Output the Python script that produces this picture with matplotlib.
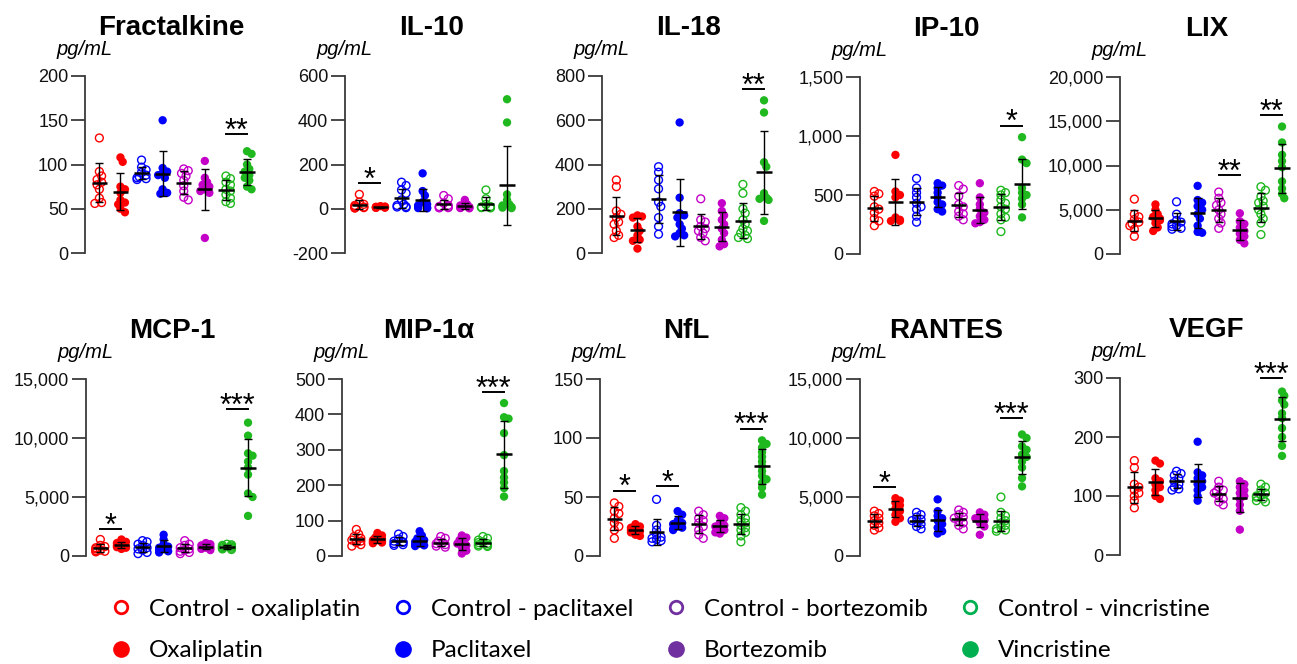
import numpy as np
import matplotlib
matplotlib.use("Agg")
import matplotlib.pyplot as plt
from matplotlib.lines import Line2D
from matplotlib.ticker import FuncFormatter

FIG_SIZE = (12.97, 6.64)
DPI = 100
BASE_FONT = "Liberation Sans"
LEGEND_FONT = "Lato"

GROUPS = [
    "Control - oxaliplatin", "Oxaliplatin",
    "Control - paclitaxel", "Paclitaxel",
    "Control - bortezomib", "Bortezomib",
    "Control - vincristine", "Vincristine",
]
FILLED = [False, True, False, True, False, True, False, True]
POINT_COLORS = ["#ff0000", "#ff0000", "#0000ff", "#0000ff",
                "#c400c8", "#c400c8", "#1fb81f", "#1fb81f"]
LEGEND_COLORS = ["#ff0000", "#ff0000", "#0000ff", "#0000ff",
                 "#7030a0", "#7030a0", "#00b050", "#00b050"]

# ---- values (pg/mL), one list per group ----
FRACTALKINE = [
    [130, 92, 87, 83, 80, 77, 72, 62, 57, 56],
    [108, 103, 75, 72, 68, 60, 57, 55, 50, 46],
    [105, 97, 94, 91, 88, 86, 85, 84, 83],
    [150, 96, 92, 90, 88, 85, 72, 68, 67],
    [95, 93, 90, 87, 82, 76, 70, 63, 60],
    [104, 85, 80, 77, 75, 72, 70, 68, 17],
    [87, 84, 80, 77, 72, 70, 66, 62, 58, 56],
    [115, 112, 100, 95, 92, 88, 85, 82, 75, 72],
]
IL10 = [
    [65, 30, 20, 15, 10, 8, 5, 5, 3],
    [12, 10, 9, 8, 7, 6, 5, 5, 4],
    [120, 105, 85, 70, 40, 20, 15, 10, 8, 5],
    [160, 80, 60, 30, 20, 15, 10, 5, 3, 2],
    [60, 45, 25, 15, 10, 8, 6, 5, 4],
    [40, 20, 15, 8, 5, 4, 3, 2],
    [85, 45, 20, 10, 8, 6, 5, 4],
    [495, 390, 65, 40, 20, 15, 10, 8, 5, 3],
]
IL18 = [
    [330, 300, 190, 175, 160, 140, 130, 100, 80, 70],
    [170, 165, 160, 120, 100, 80, 60, 55, 20],
    [390, 365, 330, 290, 230, 210, 160, 120, 85],
    [590, 250, 180, 170, 160, 130, 110, 90, 80, 75],
    [245, 150, 140, 120, 110, 100, 90, 70, 55],
    [225, 190, 170, 150, 130, 110, 90, 60, 40, 30],
    [310, 270, 200, 180, 150, 130, 110, 100, 90, 80, 70, 65],
    [690, 635, 410, 390, 270, 250, 245, 240, 145],
]
IP10 = [
    [530, 510, 490, 400, 380, 350, 300, 280, 240],
    [840, 530, 500, 480, 310, 290, 280, 280],
    [640, 560, 520, 480, 430, 400, 380, 320, 270],
    [600, 580, 560, 520, 480, 440, 420, 380, 360],
    [580, 550, 490, 420, 400, 360, 340, 320, 290],
    [600, 480, 420, 380, 350, 320, 290, 270, 260],
    [540, 520, 500, 460, 430, 400, 380, 340, 310, 290, 190],
    [990, 800, 770, 560, 520, 500, 470, 420, 310],
]
LIX = [
    [6200, 4500, 4200, 3900, 3600, 3400, 3200, 2800, 2000],
    [5600, 5000, 4500, 4200, 4000, 3800, 3500, 3000, 2600],
    [5900, 4500, 3800, 3600, 3400, 3200, 3100, 2900, 2800],
    [7700, 6100, 5800, 5400, 5000, 4500, 4000, 3200, 2500, 2400],
    [7000, 6300, 5800, 5500, 5000, 4500, 4000, 3500, 2900],
    [4600, 3700, 3400, 3000, 2600, 2300, 2000, 1600, 1200],
    [7600, 7200, 6500, 6000, 5800, 5400, 5000, 4500, 4000, 3500, 2200],
    [14400, 12600, 11200, 10500, 9800, 8200, 7400, 6800, 6300],
]
MCP1 = [
    [1400, 900, 800, 700, 600, 500, 450, 400, 350],
    [1400, 1200, 1100, 1000, 900, 800, 750, 700, 600],
    [1300, 1200, 1000, 900, 700, 600, 500, 300, 200],
    [1800, 1400, 1000, 800, 700, 600, 500, 400, 300],
    [1300, 1000, 900, 700, 600, 500, 400, 300, 200],
    [1100, 1000, 900, 800, 700, 650, 600, 500],
    [1000, 950, 900, 850, 800, 750, 700, 650, 600, 550],
    [11300, 10200, 8700, 8500, 8000, 7500, 6900, 5300, 5000, 3400],
]
MIP1A = [
    [75, 62, 55, 50, 45, 42, 38, 32, 28],
    [65, 58, 52, 48, 45, 42, 40, 38, 36],
    [62, 55, 48, 42, 40, 38, 35, 32, 30],
    [70, 58, 50, 45, 40, 35, 32, 30, 28],
    [55, 50, 42, 38, 35, 32, 28, 25],
    [58, 52, 45, 40, 35, 30, 25, 15, 7],
    [55, 50, 45, 40, 38, 35, 32, 30, 28, 27],
    [432, 392, 388, 347, 285, 240, 222, 208, 192, 168],
]
NFL = [
    [45, 42, 38, 36, 32, 28, 25, 22, 15],
    [27, 25, 24, 23, 22, 21, 20, 18, 17],
    [48, 26, 22, 18, 16, 15, 14, 13, 12],
    [38, 35, 30, 28, 27, 25, 24, 23, 22],
    [38, 35, 32, 30, 28, 25, 22, 18, 15],
    [34, 32, 28, 26, 25, 23, 22, 20, 19],
    [41, 38, 35, 32, 30, 28, 26, 24, 22, 20, 17, 12],
    [98, 95, 92, 88, 84, 80, 76, 72, 68, 65, 62, 58, 52],
]
RANTES = [
    [3800, 3600, 3400, 3200, 3000, 2800, 2600, 2400, 2200],
    [4900, 4700, 4500, 4300, 4000, 3800, 3500, 3200, 2900],
    [3700, 3500, 3300, 3100, 3000, 2900, 2700, 2500, 2300],
    [4800, 3800, 3400, 3200, 3000, 2700, 2400, 2100, 1900],
    [3900, 3700, 3500, 3300, 3200, 3000, 2800, 2600, 2300],
    [3700, 3500, 3300, 3200, 3100, 3000, 2800, 2500, 1800],
    [5000, 3700, 3400, 3200, 3000, 2800, 2600, 2400, 2300, 2200, 2100],
    [10300, 10000, 9300, 9000, 8600, 8400, 8000, 7500, 6600, 5900],
]
VEGF = [
    [160, 148, 120, 115, 110, 105, 100, 92, 80],
    [160, 155, 130, 125, 120, 115, 110, 100, 95],
    [142, 138, 135, 130, 125, 120, 115, 112, 110],
    [192, 140, 135, 130, 125, 120, 115, 110, 100, 92],
    [125, 115, 110, 108, 105, 100, 95, 90, 85],
    [125, 120, 115, 110, 105, 100, 95, 85, 75, 43],
    [120, 115, 110, 105, 102, 100, 98, 95, 92, 90],
    [277, 270, 262, 255, 240, 232, 215, 200, 185, 168],
]

TITLES = ["Fractalkine", "IL-10", "IL-18", "IP-10", "LIX",
          "MCP-1", "MIP-1\u03b1", "NfL", "RANTES", "VEGF"]
PANEL_DATA = [FRACTALKINE, IL10, IL18, IP10, LIX,
              MCP1, MIP1A, NFL, RANTES, VEGF]
Y_TICKS = [
    [0, 50, 100, 150, 200],
    [-200, 0, 200, 400, 600],
    [0, 200, 400, 600, 800],
    [0, 500, 1000, 1500],
    [0, 5000, 10000, 15000, 20000],
    [0, 5000, 10000, 15000],
    [0, 100, 200, 300, 400, 500],
    [0, 50, 100, 150],
    [0, 5000, 10000, 15000],
    [0, 100, 200, 300],
]
# (group a, group b, height of bar, label)
SIGNIFICANCE = [
    [(6, 7, 134, "**")],
    [(0, 1, 116, "*")],
    [(6, 7, 740, "**")],
    [(6, 7, 1088, "*")],
    [(4, 5, 8930, "**"), (6, 7, 15720, "**")],
    [(0, 1, 2260, "*"), (6, 7, 12450, "***")],
    [(6, 7, 462, "***")],
    [(0, 1, 55.5, "*"), (2, 3, 59, "*"), (6, 7, 108, "***")],
    [(0, 1, 5830, "*"), (6, 7, 11700, "***")],
    [(6, 7, 300, "***")],
]

# layout in pixels (figure is 1297 x 664)
AX_LEFT_PX = [85, 345, 602, 860, 1120, 86, 342, 600, 860, 1120]
AX_TOP_PX = [76, 76, 76, 77, 77, 379, 379, 379, 379, 378]
AX_H_PX = 177
AX_W_PX = 173
X_LIMITS = (-0.68, 7.52)
MARKER_PX = 7.5


def _swarm_offsets(values, y_span, x_px_per_unit, max_off=0.3):
    """Nudge points sideways where they would pile up (loose beeswarm)."""
    px_per_val = AX_H_PX / y_span
    order = np.argsort(values)[::-1]
    placed = []
    offsets = np.zeros(len(values))
    step = 0.3 * MARKER_PX / x_px_per_unit
    min_dist = 0.62 * MARKER_PX
    for idx in order:
        y = values[idx] * px_per_val
        candidates = [0.0]
        k = 1
        while k * step <= max_off:
            candidates += [k * step, -k * step]
            k += 1
        best = candidates[-1 - (len(placed) % 2)]
        for c in candidates:
            ok = True
            for (py, pxo) in placed:
                dx = (c - pxo) * x_px_per_unit
                if (dx ** 2 + (y - py) ** 2) < min_dist ** 2:
                    ok = False
                    break
            if ok:
                best = c
                break
        offsets[idx] = best
        placed.append((y, best))
    return offsets


def _plot_panel(ax, data, ticks, sigs, title):
    y_span = ticks[-1] - ticks[0]
    x_px_per_unit = AX_W_PX / (X_LIMITS[1] - X_LIMITS[0])
    for i, vals in enumerate(data):
        vals = np.asarray(vals, dtype=float)
        offs = _swarm_offsets(vals, y_span, x_px_per_unit)
        col = POINT_COLORS[i]
        if FILLED[i]:
            ax.scatter(i + offs, vals, s=36, color=col, edgecolor="none",
                       zorder=2, clip_on=False)
        else:
            ax.scatter(i + offs, vals, s=32, facecolor="none", edgecolor=col,
                       linewidth=1.0, zorder=2, clip_on=False)
        mean = vals.mean()
        sd = vals.std(ddof=1)
        ax.errorbar(i, mean, yerr=sd, fmt="none", ecolor="black",
                    elinewidth=1.0, capsize=3, capthick=1.0, zorder=3,
                    clip_on=False)
        ax.hlines(mean, i - 0.36, i + 0.36, color="black", linewidth=1.8,
                  zorder=4, clip_on=False)

    for a, b, y, label in sigs:
        ax.plot([a, b], [y, y], color="black", linewidth=1.4, clip_on=False)
        ax.annotate(label, xy=((a + b) / 2, y), xytext=(0, -4),
                    textcoords="offset points", ha="center", va="baseline",
                    fontsize=22, fontfamily=BASE_FONT, clip_on=False)

    ax.set_xlim(*X_LIMITS)
    ax.set_ylim(ticks[0], ticks[-1])
    ax.set_yticks(ticks)
    ax.yaxis.set_major_formatter(FuncFormatter(lambda v, p: f"{int(v):,}"))
    for side in ["top", "right", "bottom"]:
        ax.spines[side].set_visible(False)
    ax.spines["left"].set_color("#3a3a3a")
    ax.spines["left"].set_linewidth(1.3)
    ax.tick_params(axis="y", length=10, width=1.3, color="#3a3a3a",
                   labelsize=13, pad=2, labelcolor="#111111")
    ax.set_xticks([])
    ax.patch.set_alpha(0)

    ax.annotate(title, xy=(0.5, 1), xycoords="axes fraction",
                xytext=(0, 29.5), textcoords="offset points",
                ha="center", va="baseline", fontsize=20, fontweight="bold",
                fontfamily=BASE_FONT)
    ax.annotate("pg/mL", xy=(0, 1), xycoords="axes fraction",
                xytext=(0, 15), textcoords="offset points",
                ha="center", va="baseline", fontsize=14.5, fontstyle="italic",
                fontfamily=BASE_FONT)


def main():
    plt.rcParams["font.family"] = [BASE_FONT, "DejaVu Sans"]
    fig = plt.figure(figsize=FIG_SIZE, dpi=DPI)
    fw, fh = FIG_SIZE[0] * DPI, FIG_SIZE[1] * DPI
    for k in range(10):
        left = AX_LEFT_PX[k] / fw
        bottom = (fh - AX_TOP_PX[k] - AX_H_PX) / fh
        ax = fig.add_axes([left, bottom, AX_W_PX / fw, AX_H_PX / fh])
        _plot_panel(ax, PANEL_DATA[k], Y_TICKS[k], SIGNIFICANCE[k], TITLES[k])

    handles = []
    for i, name in enumerate(GROUPS):
        if FILLED[i]:
            h = Line2D([], [], linestyle="none", marker="o", markersize=11,
                       markerfacecolor=LEGEND_COLORS[i],
                       markeredgecolor=LEGEND_COLORS[i], label=name)
        else:
            h = Line2D([], [], linestyle="none", marker="o", markersize=9,
                       markerfacecolor="none", markeredgewidth=2,
                       markeredgecolor=LEGEND_COLORS[i], label=name)
        handles.append(h)
    fig.legend(handles, GROUPS,
               ncol=4, loc="center", bbox_to_anchor=(660 / fw, 1 - 630 / fh),
               frameon=False, prop={"family": LEGEND_FONT, "size": 17.5},
               columnspacing=1.3, handletextpad=0.7, labelspacing=0.85,
               handlelength=0.9)

    fig.savefig("out.png", dpi=DPI)


if __name__ == "__main__":
    main()
